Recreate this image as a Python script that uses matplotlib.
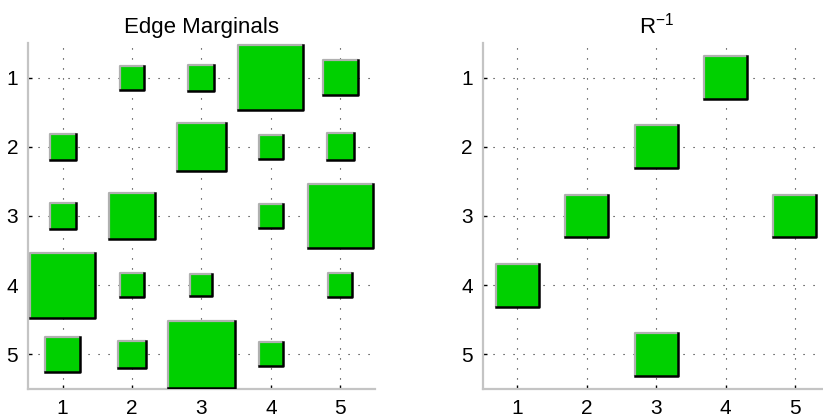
import numpy as np
import matplotlib
matplotlib.use("Agg")
import matplotlib.pyplot as plt
from matplotlib.patches import Rectangle

plt.rcParams["font.family"] = ["Liberation Sans", "DejaVu Sans"]
plt.rcParams["mathtext.fontset"] = "custom"
plt.rcParams["mathtext.rm"] = "Liberation Sans"
plt.rcParams["mathtext.it"] = "Liberation Sans"

# Edge marginals (rows 1..5, cols 1..5), box side = sqrt(value)
edge_marginals = np.array([
    [0.00, 0.12, 0.14, 0.88, 0.25],
    [0.14, 0.00, 0.48, 0.12, 0.15],
    [0.14, 0.44, 0.00, 0.12, 0.88],
    [0.88, 0.12, 0.10, 0.00, 0.12],
    [0.25, 0.16, 0.94, 0.12, 0.00],
])

# R^-1 pattern
r_inv = np.array([
    [0, 0, 0, 1, 0],
    [0, 0, 1, 0, 0],
    [0, 1, 0, 0, 1],
    [1, 0, 0, 0, 0],
    [0, 0, 1, 0, 0],
])
R_SCALE = 0.62

ticks = [1, 2, 3, 4, 5]

GREEN = "#00d000"
SPINE = "#c4c4c4"
LIGHT_EDGE = "#b0b0b0"


def hinton(ax, sides, title):
    n = sides.shape[0]
    for r in range(n):
        for c in range(n):
            s = sides[r, c]
            if s <= 0:
                continue
            x, y = c + 1, r + 1
            h = s / 2
            ax.add_patch(Rectangle((x - h, y - h), s, s, facecolor=GREEN,
                                   edgecolor="none", zorder=3))
            # highlight on top/left, shadow on bottom/right
            ax.plot([x - h, x - h, x + h], [y + h, y - h, y - h], color=LIGHT_EDGE,
                    lw=1.6, zorder=4, solid_capstyle="butt")
            ax.plot([x + h, x + h, x - h], [y - h, y + h, y + h], color="black",
                    lw=1.8, zorder=5, solid_capstyle="projecting")
    ax.set_xlim(0.5, 5.5)
    ax.set_ylim(5.5, 0.5)
    ax.set_xticks(ticks)
    ax.set_yticks(ticks)
    ax.grid(True, color="#222222", linestyle=(0, (1, 8)), linewidth=0.8)
    ax.set_axisbelow(True)
    for side in ["top", "right"]:
        ax.spines[side].set_visible(False)
    for side in ["left", "bottom"]:
        ax.spines[side].set_color(SPINE)
        ax.spines[side].set_linewidth(1.6)
    ax.tick_params(direction="in", length=3, width=1, colors="black",
                   labelsize=15, pad=7)
    ax.set_title(title, fontsize=16, pad=7)


fig = plt.figure(figsize=(8.23, 4.19), dpi=100)
ax1 = fig.add_axes([0.034, 0.0716, 0.4216, 0.8258])
ax2 = fig.add_axes([0.5865, 0.0716, 0.4216, 0.8258])

hinton(ax1, np.sqrt(edge_marginals), "Edge Marginals")
hinton(ax2, R_SCALE * np.sqrt(r_inv), r"R$^{-1}$")

fig.savefig("out.png", dpi=100)
